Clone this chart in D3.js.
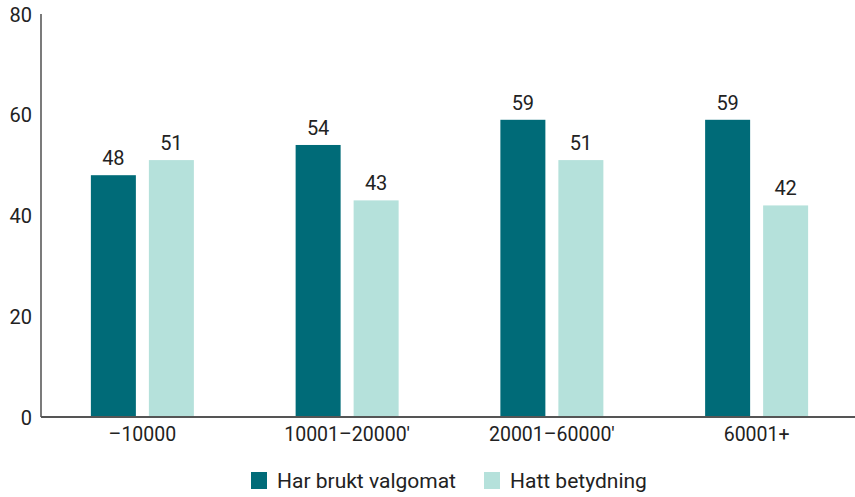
<!DOCTYPE html>
<html><head><meta charset="utf-8">
<script src="https://cdn.jsdelivr.net/npm/d3@7"></script>
<style>body{margin:0;background:#fff}svg{display:block}text{font-family:Roboto,"Open Sans",sans-serif;fill:#222}</style>
</head><body><svg id="c" width="855" height="497"></svg>
<script>
const categories = ["–10000", "10001–20000'", "20001–60000'", "60001+"];
const seriesNames = ["Har brukt valgomat", "Hatt betydning"];
const brukt = [48, 54, 59, 59];
const betydning = [51, 43, 51, 42];
const yTicks = [0, 20, 40, 60, 80];
const colors = ["#006b78", "#b5e1db"];

const svg = d3.select("#c");
const x = d3.scaleBand().domain(categories).range([40, 859]).padding(0);
const y = d3.scaleLinear().domain([0, 80]).range([417, 14]);
const sub = d3.scaleOrdinal().domain(seriesNames).range([-29, 29]);
const bw = 45;
const series = [brukt, betydning];

series.forEach((vals, si) => {
  const g = svg.append("g");
  g.selectAll("rect").data(vals).join("rect")
    .attr("x", (d, i) => x(categories[i]) + x.bandwidth() / 2 + sub(seriesNames[si]) - bw / 2)
    .attr("y", d => y(d)).attr("width", bw).attr("height", d => y(0) - y(d))
    .attr("fill", colors[si]);
  g.selectAll("text").data(vals).join("text")
    .attr("x", (d, i) => x(categories[i]) + x.bandwidth() / 2 + sub(seriesNames[si]))
    .attr("y", d => y(d) - 10).attr("text-anchor", "middle")
    .style("font-size", "20px").text(d => d);
});

// y axis
const ya = svg.append("g").attr("transform", "translate(41,0)")
  .call(d3.axisLeft(y).tickValues(yTicks).tickSize(0).tickPadding(9));
ya.select(".domain").attr("stroke", "#222").attr("stroke-width", 1.2).attr("d", `M0,${y(80)}V${y(0)}`);
ya.selectAll("text").style("font-size", "20px").attr("fill", "#222").attr("dy", "0.35em").attr("dx", "0");

// x axis
const xa = svg.append("g").attr("transform", `translate(0,${y(0)})`)
  .call(d3.axisBottom(x).tickSize(0).tickPadding(10));
xa.select(".domain").attr("stroke", "#555").attr("stroke-width", 2).attr("d", "M41,0H855");
xa.selectAll("text").style("font-size", "19.5px").attr("fill", "#222");

// legend
const leg = svg.append("g");
const lx = [251, 484];
seriesNames.forEach((n, i) => {
  leg.append("rect").attr("x", lx[i]).attr("y", 472).attr("width", 16).attr("height", 17).attr("fill", colors[i]);
  leg.append("text").attr("x", lx[i] + 26).attr("y", 481).attr("dy", "0.35em")
    .style("font-size", "21px").text(n);
});
</script></body></html>
